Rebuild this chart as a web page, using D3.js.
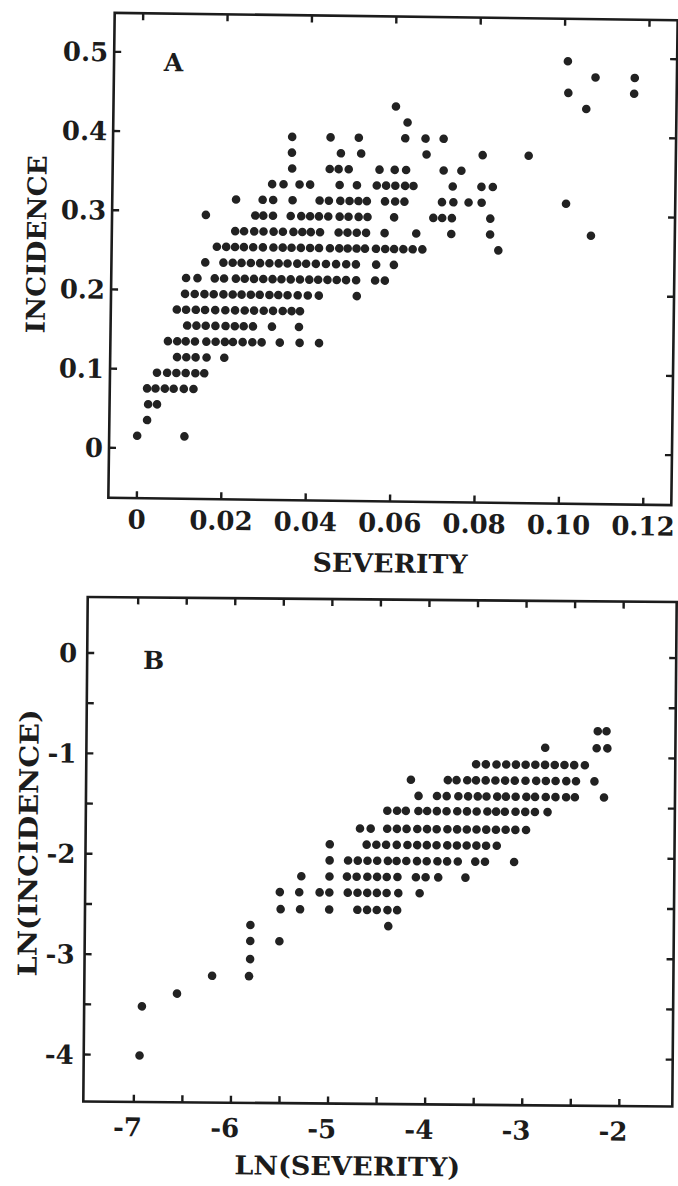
<!DOCTYPE html>
<html><head><meta charset="utf-8">
<script src="https://cdn.jsdelivr.net/npm/d3@7"></script>
<style>
html,body{margin:0;padding:0;background:#fff;}
svg{display:block;}
text{font-family:"DejaVu Serif",serif;font-weight:bold;fill:#1c1c1c;}
</style></head><body>
<svg id="chart" width="678" height="1186"></svg>
<script>
// ---------- Panel A data (incidence rows and the severities plotted on each row) ----------
const incidenceA = [0.495,0.475,0.455,0.435,0.415,0.395,0.375,0.355,0.335,0.315,0.295,0.275,0.255,0.235,0.215,0.195,0.175,0.155,0.135,0.115,0.095,0.075,0.055,0.035,0.015];
const severityA = [
  [0.1009],
  [0.1075,0.1168],
  [0.1011,0.1167],
  [0.0603,0.1054],
  [0.0631],
  [0.0358,0.0449,0.0516,0.0626,0.0674,0.0717],
  [0.0358,0.0474,0.0522,0.0677,0.0810,0.0919],
  [0.0359,0.0448,0.0469,0.0493,0.0566,0.0602,0.0629,0.0718,0.0760],
  [0.0312,0.0339,0.0377,0.0402,0.0472,0.0513,0.0560,0.0582,0.0604,0.0627,0.0647,0.0740,0.0808,0.0835],
  [0.0227,0.0290,0.0315,0.0361,0.0425,0.0447,0.0474,0.0496,0.0517,0.0537,0.0580,0.0604,0.0626,0.0715,0.0742,0.0778,0.0809,0.1009],
  [0.0156,0.0273,0.0292,0.0315,0.0357,0.0382,0.0403,0.0424,0.0446,0.0473,0.0494,0.0518,0.0539,0.0602,0.0695,0.0716,0.0739,0.0830],
  [0.0226,0.0247,0.0271,0.0293,0.0317,0.0339,0.0364,0.0385,0.0405,0.0427,0.0471,0.0492,0.0514,0.0536,0.0580,0.0655,0.0738,0.0830,0.1069],
  [0.0183,0.0205,0.0226,0.0247,0.0269,0.0292,0.0317,0.0339,0.0360,0.0382,0.0404,0.0425,0.0451,0.0473,0.0493,0.0514,0.0534,0.0560,0.0582,0.0603,0.0625,0.0647,0.0670,0.0850],
  [0.0156,0.0199,0.0221,0.0242,0.0264,0.0286,0.0308,0.0330,0.0351,0.0374,0.0395,0.0418,0.0442,0.0466,0.0490,0.0513,0.0561,0.0603],
  [0.0111,0.0138,0.0179,0.0201,0.0229,0.0250,0.0272,0.0294,0.0316,0.0337,0.0359,0.0381,0.0403,0.0424,0.0446,0.0468,0.0490,0.0514,0.0559,0.0582],
  [0.0109,0.0132,0.0155,0.0177,0.0200,0.0222,0.0243,0.0265,0.0286,0.0309,0.0330,0.0352,0.0376,0.0400,0.0426,0.0516],
  [0.0090,0.0112,0.0135,0.0157,0.0181,0.0205,0.0228,0.0251,0.0273,0.0296,0.0318,0.0341,0.0362,0.0382],
  [0.0115,0.0137,0.0159,0.0182,0.0206,0.0228,0.0249,0.0271,0.0316,0.0380],
  [0.0070,0.0092,0.0112,0.0134,0.0161,0.0183,0.0205,0.0224,0.0247,0.0270,0.0292,0.0335,0.0382,0.0428],
  [0.0092,0.0114,0.0136,0.0162,0.0204],
  [0.0045,0.0069,0.0091,0.0113,0.0136,0.0157],
  [0.0022,0.0042,0.0064,0.0085,0.0109,0.0132],
  [0.0025,0.0046],
  [0.0023],
  [0.0000,0.0112]
];
const xTicksA = [0,0.02,0.04,0.06,0.08,0.10,0.12];
const xTickLabelsA = ["0","0.02","0.04","0.06","0.08","0.10","0.12"];
const yTicksA = [0,0.1,0.2,0.3,0.4,0.5];
const yTickLabelsA = ["0","0.1","0.2","0.3","0.4","0.5"];

// ---------- Panel B data (ln incidence rows and ln severities on each row) ----------
const lnIncidenceB = [-0.74,-0.91,-1.08,-1.24,-1.40,-1.55,-1.73,-1.89,-2.05,-2.21,-2.37,-2.54,-2.70,-2.86,-3.04,-3.21,-3.39,-3.52,-4.01];
const lnSeverityB = [
  [-2.25,-2.16],
  [-2.79,-2.26,-2.15],
  [-3.50,-3.40,-3.29,-3.19,-3.09,-2.99,-2.89,-2.79,-2.69,-2.59,-2.49,-2.38],
  [-4.17,-3.79,-3.70,-3.59,-3.50,-3.40,-3.30,-3.20,-3.10,-2.99,-2.88,-2.78,-2.68,-2.57,-2.47,-2.28],
  [-4.09,-3.90,-3.80,-3.68,-3.58,-3.48,-3.39,-3.28,-3.19,-3.09,-2.98,-2.89,-2.78,-2.68,-2.57,-2.48,-2.18],
  [-4.41,-4.31,-4.22,-4.09,-4.00,-3.90,-3.80,-3.69,-3.59,-3.49,-3.38,-3.29,-3.20,-3.09,-2.99,-2.89,-2.76],
  [-4.69,-4.58,-4.41,-4.31,-4.21,-4.10,-4.00,-3.90,-3.79,-3.69,-3.59,-3.49,-3.39,-3.29,-3.19,-3.09,-2.98],
  [-5.00,-4.62,-4.52,-4.42,-4.31,-4.20,-4.10,-4.00,-3.90,-3.79,-3.69,-3.59,-3.49,-3.39,-3.28],
  [-5.00,-4.81,-4.71,-4.61,-4.51,-4.40,-4.31,-4.21,-4.10,-4.00,-3.89,-3.79,-3.68,-3.50,-3.40,-3.10],
  [-5.29,-5.00,-4.82,-4.72,-4.61,-4.51,-4.41,-4.30,-4.11,-4.01,-3.88,-3.60],
  [-5.51,-5.31,-5.10,-5.00,-4.81,-4.71,-4.61,-4.51,-4.41,-4.29,-4.07],
  [-5.50,-5.30,-5.00,-4.71,-4.61,-4.51,-4.40,-4.30],
  [-5.81,-4.39],
  [-5.81,-5.51],
  [-5.81],
  [-6.20,-5.82],
  [-6.56],
  [-6.92],
  [-6.94]
];
const xTicksB = [-7,-6.5,-6,-5.5,-5,-4.5,-4,-3.5,-3,-2.5,-2];
const xTickLabelsB = ["-7","","-6","","-5","","-4","","-3","","-2"];
const yTicksB = [0,-0.5,-1,-1.5,-2,-2.5,-3,-3.5,-4];
const yTickLabelsB = ["0","","-1","","-2","","-3","","-4"];

const svg = d3.select("#chart");
const INK = "#1c1c1c";
const DOT_R = 4.3;

function panel(cfg){
  const f = cfg.frame;
  const cx = (f.left + f.right) / 2, cy = (f.top + f.bottom) / 2;
  // the printed figure is very slightly tilted on the page
  const g = svg.append("g").attr("transform", `rotate(${cfg.tilt},${cx},${cy})`);
  const axes = [
    {gen: d3.axisBottom(cfg.x).tickValues(cfg.xTicks).tickSize(-7).tickPadding(cfg.xPad)
            .tickFormat((d,i)=>cfg.xLabels[i]), t:`translate(0,${f.bottom})`, kind:"x"},
    {gen: d3.axisTop(cfg.x).tickValues(cfg.xTicks).tickSize(-7).tickFormat(()=>""), t:`translate(0,${f.top})`},
    {gen: d3.axisLeft(cfg.y).tickValues(cfg.yTicks).tickSize(-7).tickPadding(cfg.yPad)
            .tickFormat((d,i)=>cfg.yLabels[i]), t:`translate(${f.left},0)`, kind:"y"},
    {gen: d3.axisRight(cfg.y).tickValues(cfg.yTicks).tickSize(-7).tickFormat(()=>""), t:`translate(${f.right},0)`}
  ];
  axes.forEach(a=>{
    const ag = g.append("g").attr("transform", a.t).call(a.gen);
    ag.select(".domain").remove();
    ag.selectAll(".tick line").attr("stroke", INK).attr("stroke-width", 2.4);
    ag.selectAll(".tick text").attr("font-family", '"DejaVu Serif", serif')
      .attr("font-weight","bold").attr("font-size", cfg.tickFont).attr("fill", INK);
    if (a.kind === "x" && cfg.xLabelShift) {
      ag.selectAll(".tick text").attr("dx", d => d < 0 ? cfg.xLabelShift : 0);
    }
    if (a.kind === "y") ag.selectAll(".tick text").attr("dy", "0.36em");
  });
  g.append("rect").attr("x", f.left).attr("y", f.top)
    .attr("width", f.right - f.left).attr("height", f.bottom - f.top)
    .attr("fill","none").attr("stroke", INK).attr("stroke-width", 2.6);
  const pts = [];
  cfg.rowsY.forEach((yv, i) => cfg.rowsX[i].forEach(xv => pts.push([xv, yv])));
  g.append("g").selectAll("circle").data(pts).join("circle")
    .attr("cx", d => cfg.x(d[0])).attr("cy", d => cfg.y(d[1]))
    .attr("r", DOT_R).attr("fill", "#222");
  g.append("text").attr("x", cfg.letterPos[0]).attr("y", cfg.letterPos[1])
    .attr("text-anchor","middle").attr("font-size", 25).attr("fill", INK).text(cfg.letter);
  g.append("text").attr("x", cfg.xTitle.cx).attr("y", cfg.xTitle.cy + 9.5)
    .attr("text-anchor","middle").attr("font-size", 26).attr("fill", INK)
    .attr("textLength", cfg.xTitle.len).attr("lengthAdjust","spacingAndGlyphs").text(cfg.xTitle.text);
  g.append("text").attr("transform", `translate(${cfg.yTitle.cx},${cfg.yTitle.cy}) rotate(-90)`)
    .attr("x", 0).attr("y", 9.5)
    .attr("text-anchor","middle").attr("font-size", 26).attr("fill", INK)
    .attr("textLength", cfg.yTitle.len).attr("lengthAdjust","spacingAndGlyphs").text(cfg.yTitle.text);
}

// Panel A
const xA = d3.scaleLinear().domain([0, 0.12]).range([139.5, 645.9]);
const yA = d3.scaleLinear().domain([0, 0.5]).range([451, 55]);
panel({
  frame:{left:111.5, right:674.5, top:16.5, bottom:501.5}, tilt:0.75,
  x:xA, y:yA, xTicks:xTicksA, xLabels:xTickLabelsA, yTicks:yTicksA, yLabels:yTickLabelsA,
  xPad:12, yPad:6, tickFont:26,
  rowsY:incidenceA, rowsX:severityA,
  letter:"A", letterPos:[171, 74],
  xTitle:{text:"SEVERITY", cx:394, cy:563, len:155},
  yTitle:{text:"INCIDENCE", cx:36, cy:249, len:178}
});

// Panel B
const xB = d3.scaleLinear().domain([-7, -2]).range([135.5, 621]);
const yB = d3.scaleLinear().domain([0, -4]).range([655, 1056.6]);
panel({
  frame:{left:85.5, right:674.5, top:599.5, bottom:1104}, tilt:0.5,
  x:xB, y:yB, xTicks:xTicksB, xLabels:xTickLabelsB, yTicks:yTicksB, yLabels:yTickLabelsB,
  xPad:16, yPad:10, tickFont:26, xLabelShift:-6,
  rowsY:lnIncidenceB, rowsX:lnSeverityB,
  letter:"B", letterPos:[152, 671],
  xTitle:{text:"LN(SEVERITY)", cx:350, cy:1166, len:226},
  yTitle:{text:"LN(INCIDENCE)", cx:28, cy:846, len:267}
});
</script>
</body></html>
